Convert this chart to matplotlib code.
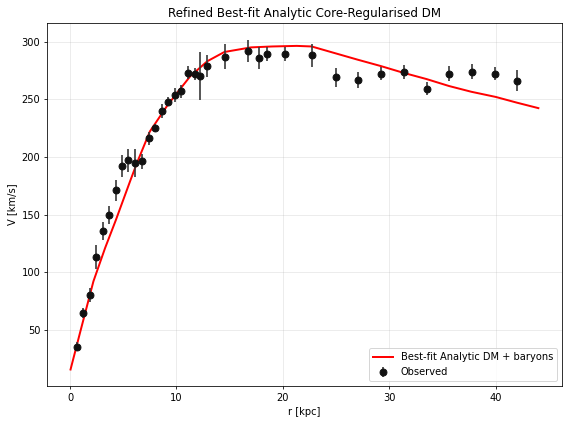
import matplotlib
matplotlib.use("Agg")
import matplotlib.pyplot as plt
import numpy as np

# Observed rotation curve
r_obs = [0.66, 1.22, 1.88, 2.45, 3.1, 3.67, 4.33, 4.9, 5.46, 6.1, 6.78, 7.44,
         8.0, 8.66, 9.23, 9.89, 10.45, 11.1, 11.7, 12.24, 12.9, 14.6, 16.7,
         17.8, 18.5, 20.2, 22.7, 24.95, 27.1, 29.2, 31.4, 33.5, 35.6, 37.8,
         39.9, 42.0]
v_obs = [35.3, 64.7, 80.3, 113, 135.6, 149.5, 171, 192, 197, 194.5, 196, 216,
         225, 240, 248, 254, 257, 273, 272, 270, 279, 287, 292,
         286, 289, 289, 288, 269, 267, 272, 274, 259, 272, 274,
         272, 266]
v_err = [4, 4.3, 6, 10.7, 7.8, 7.8, 9, 9.5, 10, 12, 6.6, 5.8,
         3.5, 6, 4, 6, 5.5, 5.5, 5.5, 21, 9.5, 10.7, 9.8,
         9.4, 6, 6, 10, 8, 7, 5.7, 6, 5.7, 6.5, 6.5,
         5.7, 9]

# Best-fit model curve
r_fit = [0.05, 1.0, 2.2, 3.3, 4.3, 5.65, 6.3, 7.5, 9.1, 10.4, 11.3, 12.9,
         14.5, 17.0, 19.0, 21.3, 22.7, 25.0, 27.0, 29.2, 31.3, 33.5, 35.6,
         37.7, 40.0, 42.0, 44.0]
v_fit = [15.5, 49.5, 92, 121, 145, 179, 195, 222, 244, 259.5, 270, 283,
         291, 295, 295.8, 296.3, 295.8, 289.7, 284.4, 278.8, 273, 267.5, 261.5,
         256.5, 252, 247, 242.3]

fig = plt.figure(figsize=(8, 5.972), dpi=71)
ax = fig.add_axes([0.083, 0.0896, 0.906, 0.856])

ax.errorbar(r_obs, v_obs, yerr=v_err, fmt='o', color='#111111', ecolor='#3a3a3a',
            elinewidth=1.7, markersize=7, label='Observed', zorder=3)
ax.plot(r_fit, v_fit, color='red', lw=2, label='Best-fit Analytic DM + baryons', zorder=2)

ax.set_xlabel('r [kpc]')
ax.set_ylabel('V [km/s]')
ax.set_title('Refined Best-fit Analytic Core-Regularised DM')
ax.grid(True, alpha=0.3)
ax.legend(loc='lower right')

fig.savefig('out.png', dpi=71)
